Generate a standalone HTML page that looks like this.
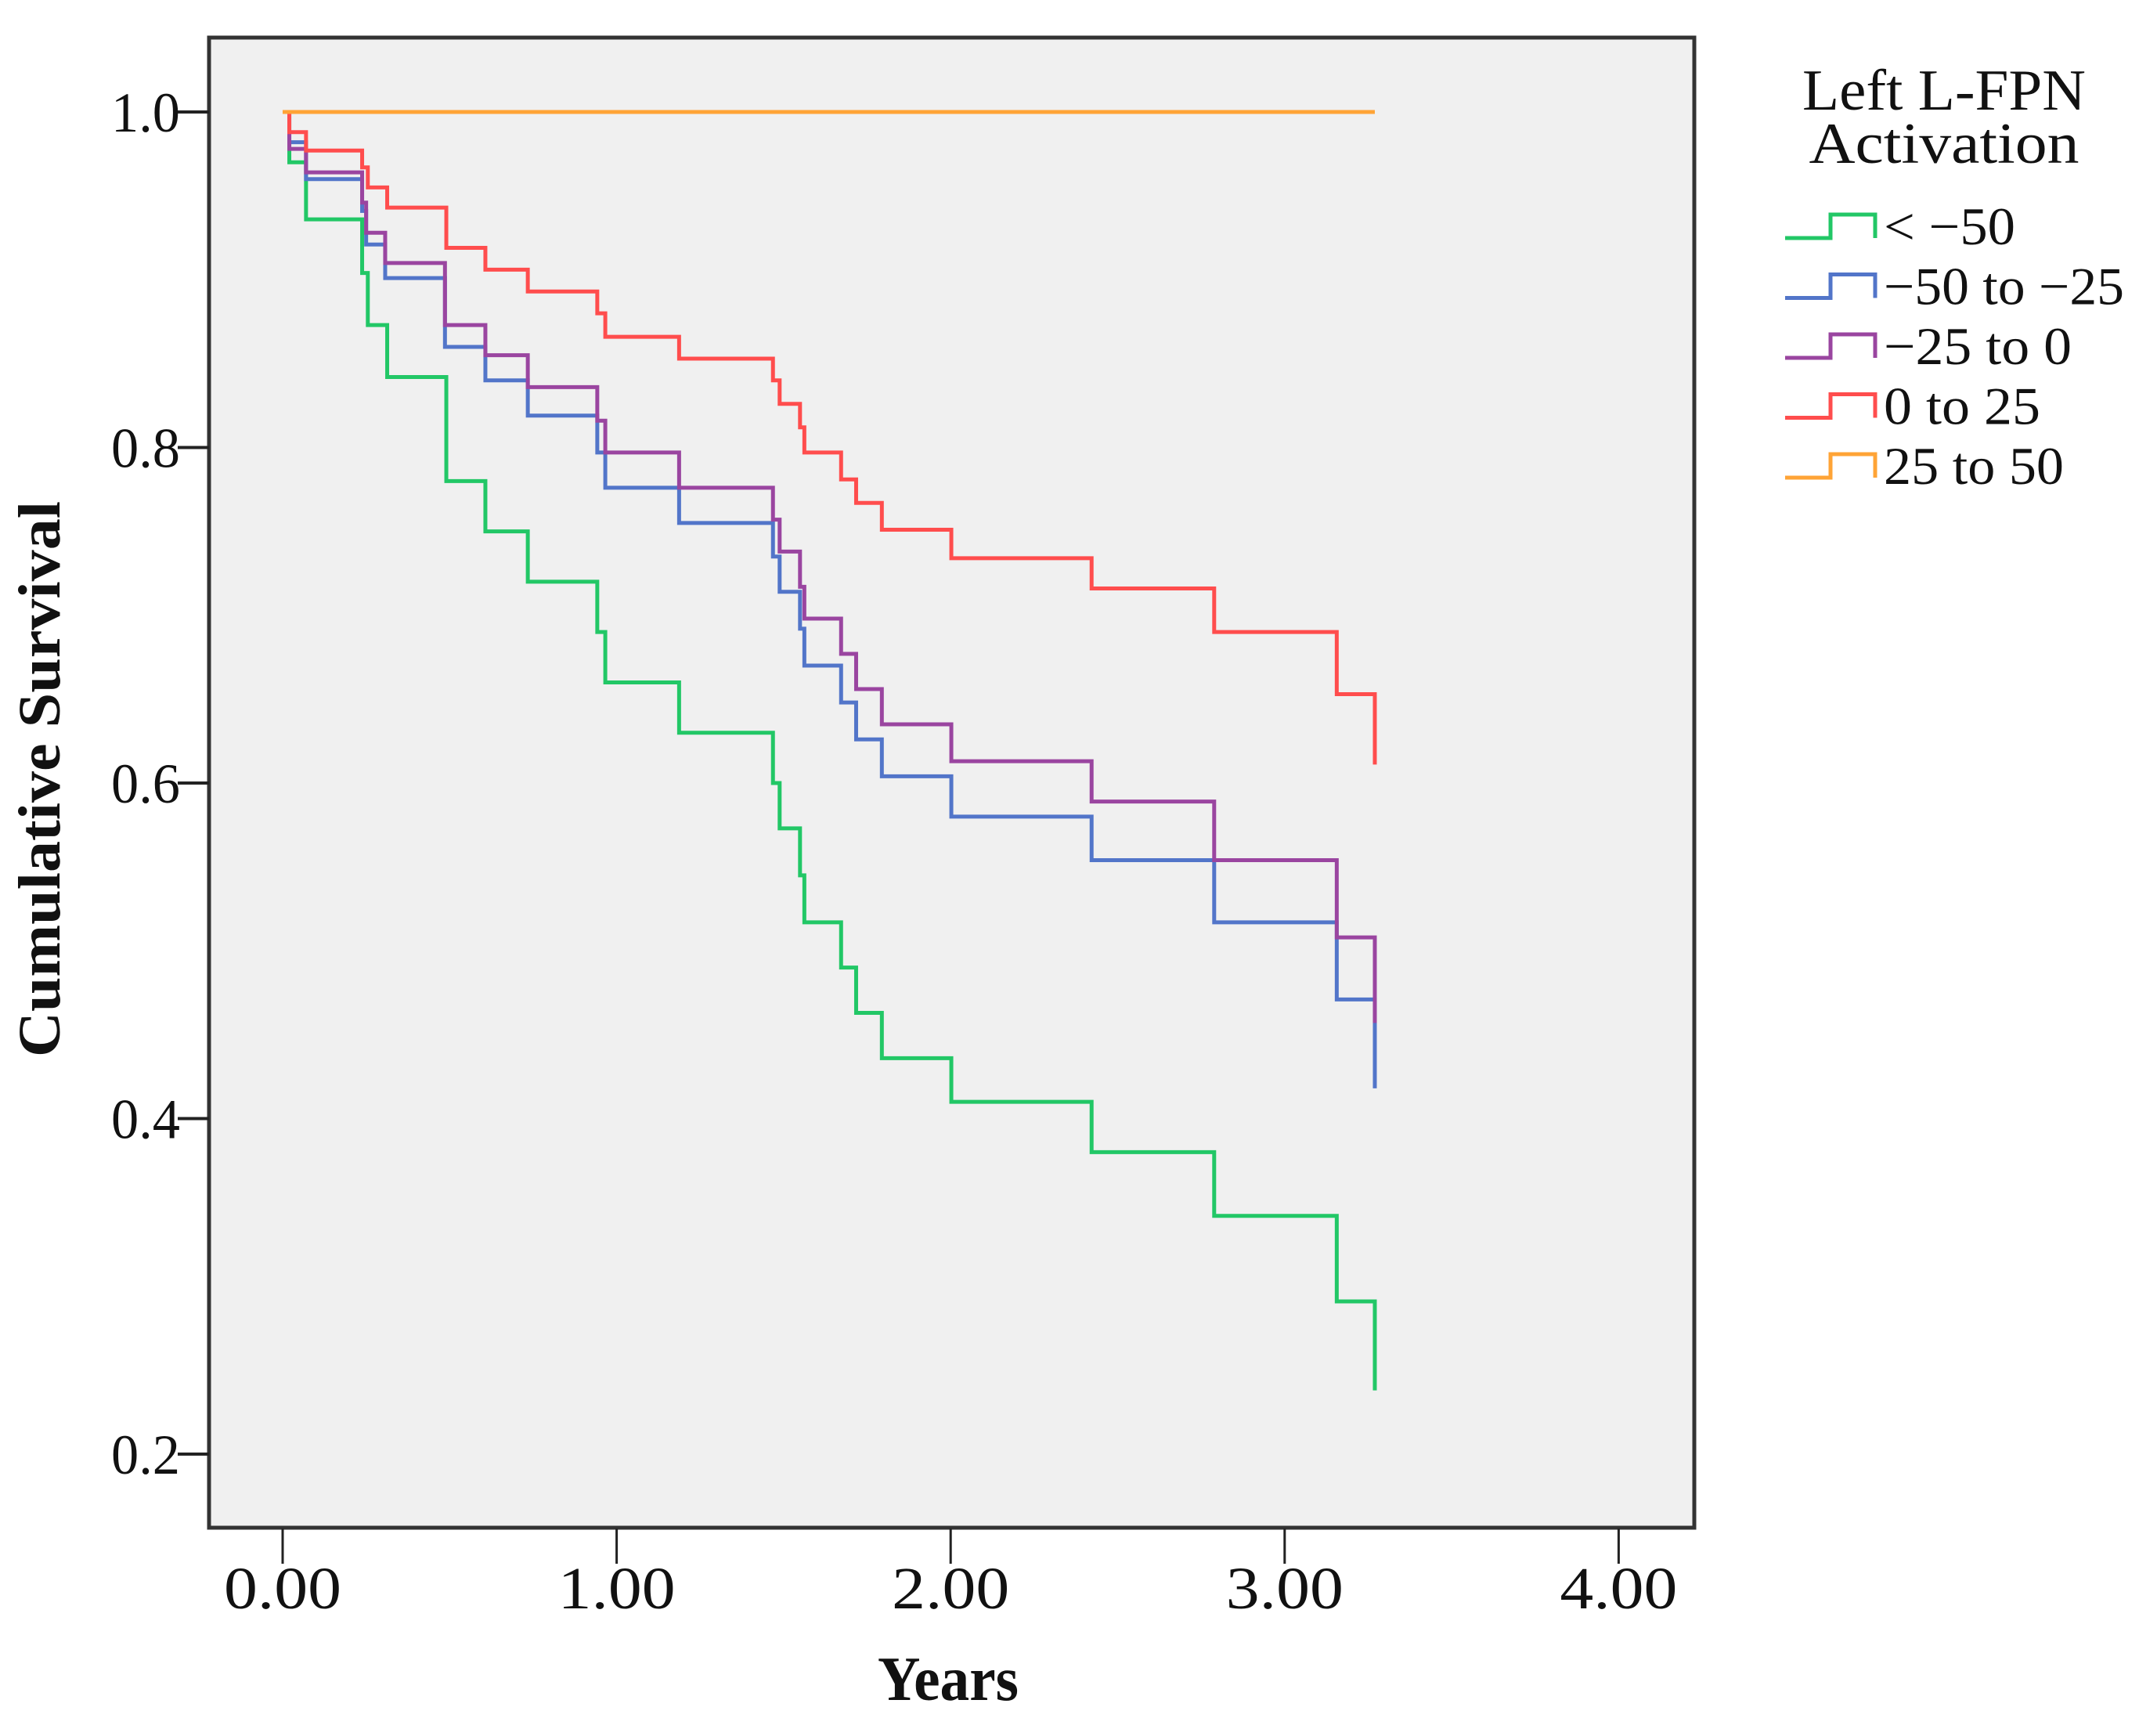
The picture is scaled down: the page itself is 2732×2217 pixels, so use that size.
<!DOCTYPE html>
<html><head><meta charset="utf-8"><style>
html,body{margin:0;padding:0;background:#fff;}
svg{display:block;}
text{font-family:"Liberation Serif",serif;fill:#111;}
</style></head><body>
<svg id="chart" width="2732" height="2217" viewBox="0 0 2732 2217" xmlns="http://www.w3.org/2000/svg">
<rect x="267" y="48" width="1897" height="1903" fill="#f0f0f0"/>
<g id="series"></g>
<rect x="267" y="48" width="1897" height="1903" fill="none" stroke="#333" stroke-width="5"/>
<g id="axes"></g>
<text x="1211" y="2171" font-size="80" font-weight="bold" text-anchor="middle" textLength="180" lengthAdjust="spacingAndGlyphs">Years</text>
<text transform="translate(76,995) rotate(-90)" font-size="76" font-weight="bold" text-anchor="middle" textLength="710" lengthAdjust="spacingAndGlyphs">Cumulative Survival</text>
<g id="legend">
<text x="2483" y="140" font-size="74" text-anchor="middle" textLength="362" lengthAdjust="spacingAndGlyphs">Left L-FPN</text>
<text x="2483" y="208" font-size="74" text-anchor="middle" textLength="345" lengthAdjust="spacingAndGlyphs">Activation</text>
</g>
</svg>
<script>
const xTicks = [0, 1, 2, 3, 4];
const xTickLabels = ["0.00", "1.00", "2.00", "3.00", "4.00"];
const yTicks = [0.2, 0.4, 0.6, 0.8, 1.0];
const yTickLabels = ["0.2", "0.4", "0.6", "0.8", "1.0"];
const seriesNames = ["< \u221250", "\u221250 to \u221225", "\u221225 to 0", "0 to 25", "25 to 50"];
const seriesColors = ["#22c766", "#5275c9", "#9a45a0", "#ff4d4d", "#ffa436"];
const greenTimes = [0, 0.02, 0.07, 0.238, 0.255, 0.313, 0.49, 0.607, 0.734, 0.942, 0.966, 1.187, 1.468, 1.488, 1.549, 1.562, 1.672, 1.717, 1.794, 2.002, 2.422, 2.789, 3.156, 3.27];
const greenSurv = [1.0, 0.97, 0.936, 0.904, 0.873, 0.842, 0.780, 0.750, 0.720, 0.690, 0.660, 0.630, 0.600, 0.573, 0.545, 0.517, 0.490, 0.463, 0.436, 0.410, 0.380, 0.342, 0.291, 0.238];
const blueTimes = [0, 0.02, 0.07, 0.238, 0.25, 0.307, 0.486, 0.607, 0.734, 0.942, 0.966, 1.187, 1.468, 1.488, 1.549, 1.562, 1.672, 1.717, 1.794, 2.002, 2.422, 2.789, 3.156, 3.27];
const blueSurv = [1.0, 0.982, 0.960, 0.941, 0.921, 0.901, 0.860, 0.840, 0.819, 0.797, 0.776, 0.755, 0.735, 0.714, 0.692, 0.670, 0.648, 0.626, 0.604, 0.580, 0.554, 0.517, 0.471, 0.418];
const purpleTimes = [0, 0.02, 0.07, 0.238, 0.25, 0.307, 0.486, 0.607, 0.734, 0.942, 0.966, 1.187, 1.468, 1.488, 1.549, 1.562, 1.672, 1.717, 1.794, 2.002, 2.422, 2.789, 3.156, 3.27];
const purpleSurv = [1.0, 0.978, 0.964, 0.946, 0.928, 0.910, 0.873, 0.855, 0.836, 0.816, 0.797, 0.776, 0.757, 0.738, 0.717, 0.698, 0.677, 0.656, 0.635, 0.613, 0.589, 0.554, 0.508, 0.457];
const redTimes = [0, 0.02, 0.07, 0.238, 0.255, 0.313, 0.49, 0.607, 0.734, 0.942, 0.966, 1.187, 1.468, 1.488, 1.549, 1.562, 1.672, 1.717, 1.794, 2.002, 2.422, 2.789, 3.156, 3.27];
const redSurv = [1.0, 0.988, 0.977, 0.967, 0.955, 0.943, 0.919, 0.906, 0.893, 0.880, 0.866, 0.853, 0.840, 0.826, 0.812, 0.797, 0.781, 0.767, 0.751, 0.734, 0.716, 0.690, 0.653, 0.611];
const orangeTimes = [0, 3.27];
const orangeSurv = [1.0, 1.0];

const NS = "http://www.w3.org/2000/svg";
const X0 = 361, XPER = 426.6, Y1 = 143, YPER = 2142.5;
function xScale(t){ return X0 + t * XPER; }
function yScale(v){ return Y1 + (1 - v) * YPER; }

const axes = document.getElementById('axes');
xTicks.forEach((t, i) => {
  const l = document.createElementNS(NS, 'line');
  l.setAttribute('x1', xScale(t)); l.setAttribute('x2', xScale(t));
  l.setAttribute('y1', 1952); l.setAttribute('y2', 1997);
  l.setAttribute('stroke', '#222'); l.setAttribute('stroke-width', 3);
  
  
  axes.appendChild(l);
  const tx = document.createElementNS(NS, 'text');
  tx.setAttribute('x', xScale(t)); tx.setAttribute('y', 2054);
  tx.setAttribute('font-size', 76); tx.setAttribute('text-anchor', 'middle');
  tx.setAttribute('textLength', 150);
  tx.setAttribute('lengthAdjust', 'spacingAndGlyphs');
  tx.textContent = xTickLabels[i];
  
  
  axes.appendChild(tx);
});
yTicks.forEach((v, i) => {
  const l = document.createElementNS(NS, 'line');
  l.setAttribute('x1', 227); l.setAttribute('x2', 267);
  l.setAttribute('y1', yScale(v)); l.setAttribute('y2', yScale(v));
  l.setAttribute('stroke', '#222'); l.setAttribute('stroke-width', 4);
  
  
  axes.appendChild(l);
  const tx = document.createElementNS(NS, 'text');
  tx.setAttribute('x', 230); tx.setAttribute('y', yScale(v) + 25);
  tx.setAttribute('font-size', 72); tx.setAttribute('text-anchor', 'end');
  tx.setAttribute('textLength', 88);
  tx.setAttribute('lengthAdjust', 'spacingAndGlyphs');
  tx.textContent = yTickLabels[i];
  
  
  axes.appendChild(tx);
});

const seriesTimes = [greenTimes, blueTimes, purpleTimes, redTimes, orangeTimes];
const seriesSurv = [greenSurv, blueSurv, purpleSurv, redSurv, orangeSurv];
const seriesKeys = ['less-than-minus-50', 'minus-50-to-minus-25', 'minus-25-to-0', '0-to-25', '25-to-50'];
const sg = document.getElementById('series');
seriesTimes.forEach((ts, k) => {
  const vs = seriesSurv[k];
  let d = 'M' + xScale(ts[0]) + ' ' + yScale(vs[0]);
  for (let i = 1; i < ts.length; i++) {
    d += ' H' + xScale(ts[i]) + ' V' + yScale(vs[i]);
  }
  const p = document.createElementNS(NS, 'path');
  p.setAttribute('d', d);
  p.setAttribute('fill', 'none');
  p.setAttribute('stroke', seriesColors[k]);
  p.setAttribute('stroke-width', 5);
  
  
  sg.appendChild(p);
});

const lg = document.getElementById('legend');
const textLens = [168, 307, 240, 200, 230];
seriesNames.forEach((n, k) => {
  const yl = 304 + k * 76.5, yh = yl - 30;
  const p = document.createElementNS(NS, 'path');
  p.setAttribute('d', 'M2280 ' + yl + ' H2338 V' + yh + ' H2395 V' + yl);
  p.setAttribute('fill', 'none');
  p.setAttribute('stroke', seriesColors[k]);
  p.setAttribute('stroke-width', 5);
  
  
  lg.appendChild(p);
  const tx = document.createElementNS(NS, 'text');
  tx.setAttribute('x', 2406); tx.setAttribute('y', yl + 8);
  tx.setAttribute('font-size', 68);
  tx.setAttribute('textLength', textLens[k]);
  tx.setAttribute('lengthAdjust', 'spacingAndGlyphs');
  tx.textContent = n;
  
  
  lg.appendChild(tx);
});
</script>
</body></html>
